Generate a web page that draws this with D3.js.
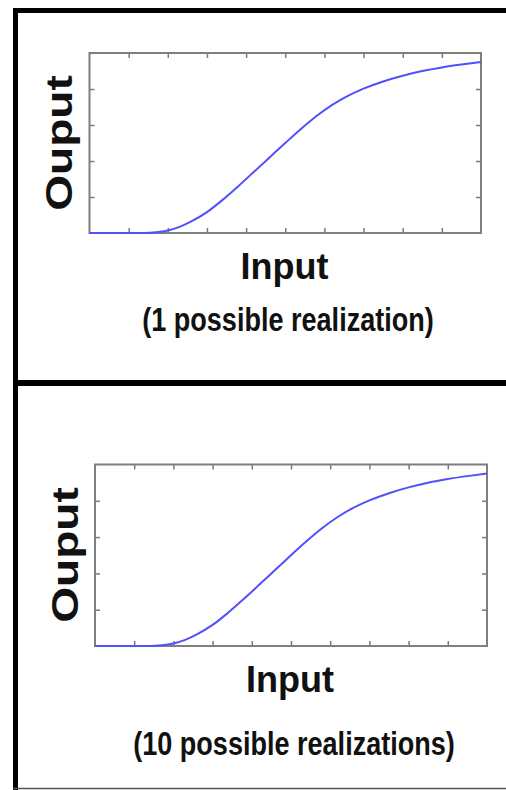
<!DOCTYPE html>
<html>
<head>
<meta charset="utf-8">
<script src="https://cdn.jsdelivr.net/npm/d3@7"></script>
<style>
  html, body { margin: 0; padding: 0; background: #fff; }
  svg { display: block; }
  text { font-family: "Liberation Sans", Arial, Helvetica, sans-serif; font-weight: bold; fill: #111; }
</style>
</head>
<body>
<svg id="chart" width="506" height="790"></svg>
<script>
// Response curve: output as a function of input
const inputValues  = [0, 0.5, 1.0, 1.4, 1.7, 2.0, 2.3, 2.6, 3.0, 3.4, 3.8, 4.2, 4.6, 5.0, 5.4, 5.8, 6.2, 6.6, 7.0, 7.5, 8.0, 8.5, 9.0, 9.5, 10];
const outputValues = [0, 0, 0, 0, 0.02, 0.07, 0.17, 0.32, 0.58, 0.92, 1.3, 1.7, 2.1, 2.5, 2.89, 3.25, 3.56, 3.81, 4.01, 4.21, 4.37, 4.5, 4.6, 4.68, 4.75];

// Axis extents and unlabeled tick positions
const xDomain = [0, 10];
const yDomain = [0, 5];
const xTicks = [1, 2, 3, 4, 5, 6, 7, 8, 9];
const yTicks = [1, 2, 3, 4];

// Panel texts
const yAxisTitle = "Ouput";
const xAxisTitle = "Input";
const panelCaptions = ["(1 possible realization)", "(10 possible realizations)"];

const svg = d3.select("#chart");
svg.append("rect").attr("width", 506).attr("height", 790).attr("fill", "#fff");

const points = inputValues.map((v, i) => ({ x: v, y: outputValues[i] }));

// Per-panel layout
const layouts = [
  { left: 89.5, top: 53,   right: 481, bottom: 233,
    yTitle: { x: 72, y: 143, size: 36, sx: 1.28 },
    xTitle: { x: 284.5, y: 278.5, size: 36, sx: 1.0 },
    caption: { x: 288, y: 331, size: 33, sx: 0.82 } },
  { left: 95,   top: 464.5, right: 487, bottom: 646,
    yTitle: { x: 77.5, y: 555, size: 36, sx: 1.28 },
    xTitle: { x: 290, y: 692, size: 36, sx: 1.0 },
    caption: { x: 294, y: 755, size: 33, sx: 0.82 } }
];

layouts.forEach((L, i) => {
  const x = d3.scaleLinear().domain(xDomain).range([L.left, L.right]);
  const y = d3.scaleLinear().domain(yDomain).range([L.bottom, L.top]);
  const g = svg.append("g");

  const styleAxis = sel => {
    sel.select(".domain").remove();
    sel.selectAll(".tick line").attr("stroke", "#7a7a7a").attr("stroke-width", 1.5);
  };
  const ts = -5;
  g.append("g").attr("transform", `translate(0,${L.bottom})`)
    .call(d3.axisBottom(x).tickValues(xTicks).tickSize(ts).tickFormat("")).call(styleAxis);
  g.append("g").attr("transform", `translate(0,${L.top})`)
    .call(d3.axisTop(x).tickValues(xTicks).tickSize(ts).tickFormat("")).call(styleAxis);
  g.append("g").attr("transform", `translate(${L.left},0)`)
    .call(d3.axisLeft(y).tickValues(yTicks).tickSize(ts).tickFormat("")).call(styleAxis);
  g.append("g").attr("transform", `translate(${L.right},0)`)
    .call(d3.axisRight(y).tickValues(yTicks).tickSize(ts).tickFormat("")).call(styleAxis);

  // plot frame
  g.append("rect")
    .attr("x", x(xDomain[0])).attr("y", y(yDomain[1]))
    .attr("width", x(xDomain[1]) - x(xDomain[0]))
    .attr("height", y(yDomain[0]) - y(yDomain[1]))
    .attr("fill", "none").attr("stroke", "#7f7f7f").attr("stroke-width", 2);

  // curve
  g.append("path")
    .datum(points)
    .attr("fill", "none")
    .attr("stroke", "#5050ff")
    .attr("stroke-width", 2)
    .attr("d", d3.line().x(d => x(d.x)).y(d => y(d.y)).curve(d3.curveMonotoneX));

  // titles
  g.append("text")
    .attr("transform", `translate(${L.yTitle.x},${L.yTitle.y}) rotate(-90) scale(${L.yTitle.sx},1)`)
    .attr("text-anchor", "middle")
    .style("font-size", L.yTitle.size + "px")
    .text(yAxisTitle);
  g.append("text")
    .attr("transform", `translate(${L.xTitle.x},${L.xTitle.y}) scale(${L.xTitle.sx},1)`)
    .attr("text-anchor", "middle")
    .style("font-size", L.xTitle.size + "px")
    .text(xAxisTitle);
  g.append("text")
    .attr("transform", `translate(${L.caption.x},${L.caption.y}) scale(${L.caption.sx},1)`)
    .attr("text-anchor", "middle")
    .style("font-size", L.caption.size + "px")
    .text(panelCaptions[i]);
});

// panel borders
const border = svg.append("g").attr("stroke", "#000");
border.append("line").attr("x1", 15.5).attr("x2", 15.5).attr("y1", 8).attr("y2", 790).attr("stroke-width", 5);
border.append("line").attr("x1", 13).attr("x2", 506).attr("y1", 10.5).attr("y2", 10.5).attr("stroke-width", 5);
border.append("line").attr("x1", 13).attr("x2", 506).attr("y1", 383).attr("y2", 383).attr("stroke-width", 6);
border.append("line").attr("x1", 13).attr("x2", 506).attr("y1", 788.5).attr("y2", 788.5).attr("stroke-width", 1.5).attr("stroke", "#555");
</script>
</body>
</html>
